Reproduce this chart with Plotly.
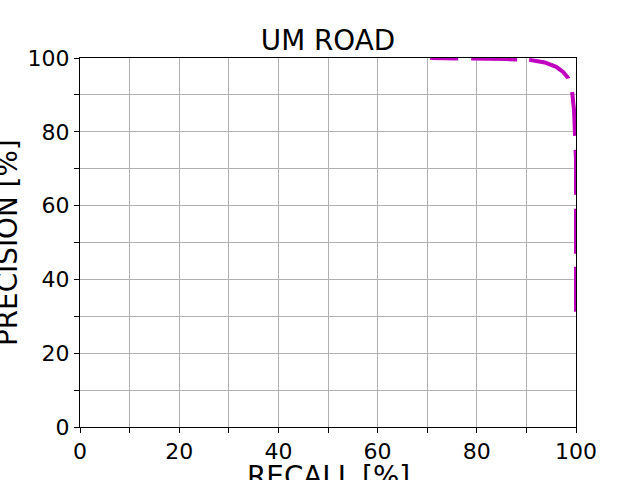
import plotly.graph_objects as go

recall = [70.6, 80.0, 86.0, 90.5, 93.7, 96.0, 97.4, 98.4, 98.8, 99.2, 99.6, 99.8, 100.0, 100.0]
precision = [100.0, 99.9, 99.7, 99.5, 98.8, 97.6, 96.2, 94.6, 93.0, 91.1, 85.9, 79.1, 72.4, 30.6]

title_text = "UM ROAD"
x_label = "RECALL [%]"
y_label = "PRECISION [%]"

FONT = "DejaVu Sans"

fig = go.Figure()
fig.add_trace(go.Scatter(
    x=recall, y=precision, mode="lines",
    line=dict(color="#bf00bf", width=4,
              dash="28px,13px,46px,12px,45px,14px,44px,14px,45px,14px,45px,13px,45px,14px,45px,40px"),
    showlegend=False,
))

axis_common = dict(
    range=[0, 100],
    dtick=20,
    tick0=0,
    showline=True, linecolor="black", linewidth=1, mirror=True,
    ticks="outside", ticklen=5, tickwidth=1, tickcolor="black",
    showgrid=True, gridcolor="#b0b0b0", gridwidth=1,
    zeroline=False,
    tickfont=dict(family=FONT, size=22, color="black"),
    minor=dict(dtick=10, tick0=0, ticks="outside", ticklen=5, tickwidth=1,
               tickcolor="black", showgrid=True, gridcolor="#b0b0b0", gridwidth=1),
)

fig.update_xaxes(**axis_common)
fig.update_yaxes(**axis_common)

fig.update_layout(
    width=640, height=480,
    margin=dict(l=80, r=64, t=58, b=53, pad=0),
    paper_bgcolor="white", plot_bgcolor="white",
    font=dict(family=FONT, color="black"),
    title=dict(text=title_text, x=0.5, xref="paper", y=1 - 40 / 480, yref="container",
               xanchor="center", yanchor="middle",
               font=dict(family=FONT, size=27.8, color="black")),
    annotations=[
        dict(text=x_label, x=0.5, y=0, xref="paper", yref="paper",
             xanchor="center", yanchor="top", yshift=-31, showarrow=False,
             font=dict(family=FONT, size=27.8, color="black")),
        dict(text=y_label, x=0, y=0.5, xref="paper", yref="paper",
             xanchor="right", yanchor="middle", xshift=-54, textangle=-90,
             showarrow=False,
             font=dict(family=FONT, size=27.8, color="black")),
    ],
)

fig.write_html("out.html", config={"displayModeBar": False},
               post_script="document.body.style.margin='0';document.body.style.padding='0';")
